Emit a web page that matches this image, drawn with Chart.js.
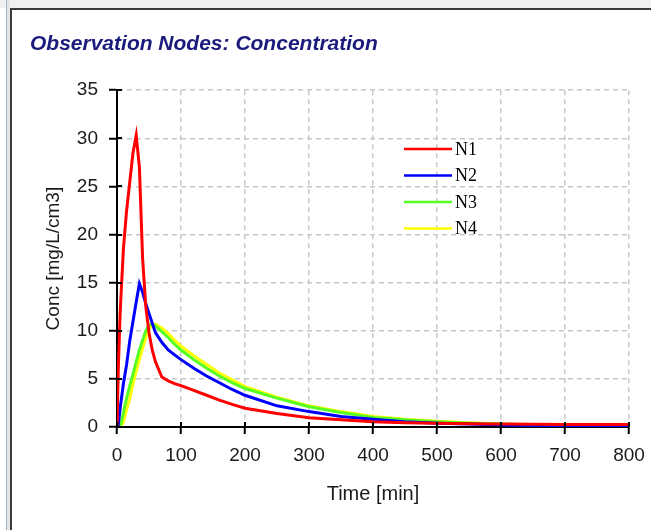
<!DOCTYPE html>
<html>
<head>
<meta charset="utf-8">
<script src="https://cdn.jsdelivr.net/npm/chart.js@4.4.1/dist/chart.umd.min.js"></script>
<style>
html,body{margin:0;padding:0;background:#fff;overflow:hidden;}
#wrap{position:relative;width:651px;height:530px;}
canvas{position:absolute;left:0;top:0;}
.fr{position:absolute;pointer-events:none;}
</style>
</head>
<body>
<div id="wrap">
<canvas id="c" width="651" height="530"></canvas>
<div class="fr" style="left:0;top:0;width:651px;height:8px;background:#f0f0f0;"></div>
<div class="fr" style="left:6px;top:0;width:1px;height:530px;background:#9fb0c4;"></div>
<div class="fr" style="left:7px;top:0;width:3px;height:530px;background:#e6e6e6;"></div>
<div class="fr" style="left:10px;top:8px;width:641px;height:2px;background:#3c3c3c;"></div>
<div class="fr" style="left:10px;top:8px;width:2px;height:522px;background:#3c3c3c;"></div>
</div>
<script>
// ---- data ----
const times = [0, 2, 5, 10, 15, 20, 25, 30, 35, 40, 45, 50, 55, 60, 70, 80, 90, 100, 120, 140, 160, 180, 200, 250, 300, 350, 400, 450, 500, 550, 600, 700, 800];
const seriesNames = ["N1", "N2", "N3", "N4"];
const n1 = [0, 6, 12, 18.5, 22.5, 25.5, 28.5, 30.3, 27, 17.5, 12.5, 9.8, 8, 6.8, 5.2, 4.8, 4.5, 4.3, 3.8, 3.3, 2.8, 2.35, 1.95, 1.4, 0.95, 0.75, 0.55, 0.45, 0.38, 0.33, 0.3, 0.27, 0.25];
const n2 = [0, 0.2, 2, 4.5, 6.5, 9, 11, 13, 14.9, 14, 12.8, 11.8, 10.8, 9.8, 8.8, 8.0, 7.5, 7.0, 6.1, 5.3, 4.6, 3.9, 3.3, 2.2, 1.6, 1.1, 0.8, 0.55, 0.4, 0.3, 0.2, 0.12, 0.08];
const n3 = [0, 0, 0, 1.5, 3, 4.3, 5.5, 6.8, 8, 9, 10, 10.6, 10.7, 10.5, 9.9, 9.3, 8.6, 8.0, 7.0, 6.1, 5.3, 4.6, 4.0, 3.0, 2.1, 1.5, 1.0, 0.75, 0.55, 0.4, 0.3, 0.15, 0.1];
const n4 = [0, 0, 0, 0.5, 1.8, 3, 4.5, 5.8, 7, 8.2, 9.3, 10.2, 10.6, 10.7, 10.3, 9.7, 9.0, 8.4, 7.4, 6.5, 5.6, 4.9, 4.2, 3.1, 2.2, 1.6, 1.1, 0.8, 0.6, 0.45, 0.32, 0.17, 0.1];
const seriesValues = [n1, n2, n3, n4];
const seriesColors = ["#ff0000", "#0000ff", "#55ff22", "#ffff00"];
const xTicks = [0, 100, 200, 300, 400, 500, 600, 700, 800];
const yTicks = [0, 5, 10, 15, 20, 25, 30, 35];

const datasets = seriesNames.map((name, i) => ({
  label: name,
  data: times.map((t, k) => ({x: t, y: seriesValues[i][k]})),
  borderColor: seriesColors[i],
  backgroundColor: seriesColors[i],
  borderWidth: 3,
  pointRadius: 0,
  tension: 0,
  fill: false,
  order: i
}));

const FONT = "'Liberation Sans', Arial, sans-serif";

const innerTicks = {
  id: 'innerTicks',
  afterDatasetsDraw(chart) {
    const ctx = chart.ctx, a = chart.chartArea;
    const xs = chart.scales.x, ys = chart.scales.y;
    ctx.save();
    ctx.strokeStyle = '#000';
    ctx.lineWidth = 2;
    ctx.beginPath();
    xTicks.forEach(v => { const px = Math.round(xs.getPixelForValue(v)); ctx.moveTo(px, a.bottom); ctx.lineTo(px, a.bottom - 5); });
    yTicks.forEach(v => { const py = Math.round(ys.getPixelForValue(v)); ctx.moveTo(a.left, py); ctx.lineTo(a.left + 5, py); });
    ctx.stroke();
    ctx.restore();
  }
};

const innerLegend = {
  id: 'innerLegend',
  afterDraw(chart) {
    const ctx = chart.ctx;
    ctx.save();
    ctx.font = "18px 'Liberation Serif', 'Times New Roman', serif";
    ctx.textBaseline = 'middle';
    ctx.fillStyle = '#000';
    chart.data.datasets.forEach((ds, i) => {
      const y = 149 + i * 26.5;
      ctx.strokeStyle = ds.borderColor;
      ctx.lineWidth = 2.5;
      ctx.beginPath();
      ctx.moveTo(404, y);
      ctx.lineTo(452, y);
      ctx.stroke();
      ctx.fillText(ds.label, 455, y + 1);
    });
    ctx.restore();
  }
};

new Chart(document.getElementById('c'), {
  type: 'line',
  data: { datasets },
  plugins: [innerTicks, innerLegend],
  options: {
    responsive: false,
    animation: false,
    devicePixelRatio: 1,
    layout: { padding: { left: 30, top: 0, right: 22, bottom: 24 } },
    plugins: {
      legend: { display: false },
      tooltip: { enabled: false },
      title: {
        display: true,
        text: 'Observation Nodes: Concentration',
        align: 'start',
        color: '#1b1b7c',
        font: { family: FONT, size: 21, weight: 'bold', style: 'italic' },
        padding: { top: 32, bottom: 33 }
      }
    },
    scales: {
      x: {
        type: 'linear',
        min: 0, max: 800,
        afterBuildTicks(s) { s.ticks = xTicks.map(v => ({value: v})); },
        afterFit(s) { s.height = 79; s.paddingRight = 0; s.paddingLeft = 0; },
        border: { display: true, color: '#000', width: 2, dash: [5, 4] },
        grid: {
          color: (c) => c.tick && c.tick.value === 0 ? 'rgba(0,0,0,0)' : '#c8c8c8',
          lineWidth: 1.5,
          drawTicks: true,
          tickLength: 7,
          tickColor: '#000',
          tickWidth: 2,
          tickBorderDash: []
        },
        ticks: { color: '#1a1a1a', font: { family: FONT, size: 19 }, padding: 10, maxRotation: 0 },
        title: { display: true, text: 'Time [min]', color: '#1a1a1a', font: { family: FONT, size: 20 }, padding: { top: 4, bottom: 0 } }
      },
      y: {
        type: 'linear',
        min: 0, max: 35,
        afterBuildTicks(s) { s.ticks = yTicks.map(v => ({value: v})); },
        afterFit(s) { s.width = 87; },
        border: { display: true, color: '#000', width: 2, dash: [5, 4] },
        grid: {
          color: (c) => c.tick && c.tick.value === 0 ? 'rgba(0,0,0,0)' : '#c8c8c8',
          lineWidth: 1.5,
          drawTicks: true,
          tickLength: 8,
          tickColor: '#000',
          tickWidth: 2,
          tickBorderDash: []
        },
        ticks: { color: '#1a1a1a', font: { family: FONT, size: 19 }, padding: 11 },
        title: { display: true, text: 'Conc [mg/L/cm3]', color: '#1a1a1a', font: { family: FONT, size: 19 }, padding: { top: 12, bottom: 0 } }
      }
    }
  }
});
</script>
</body>
</html>
